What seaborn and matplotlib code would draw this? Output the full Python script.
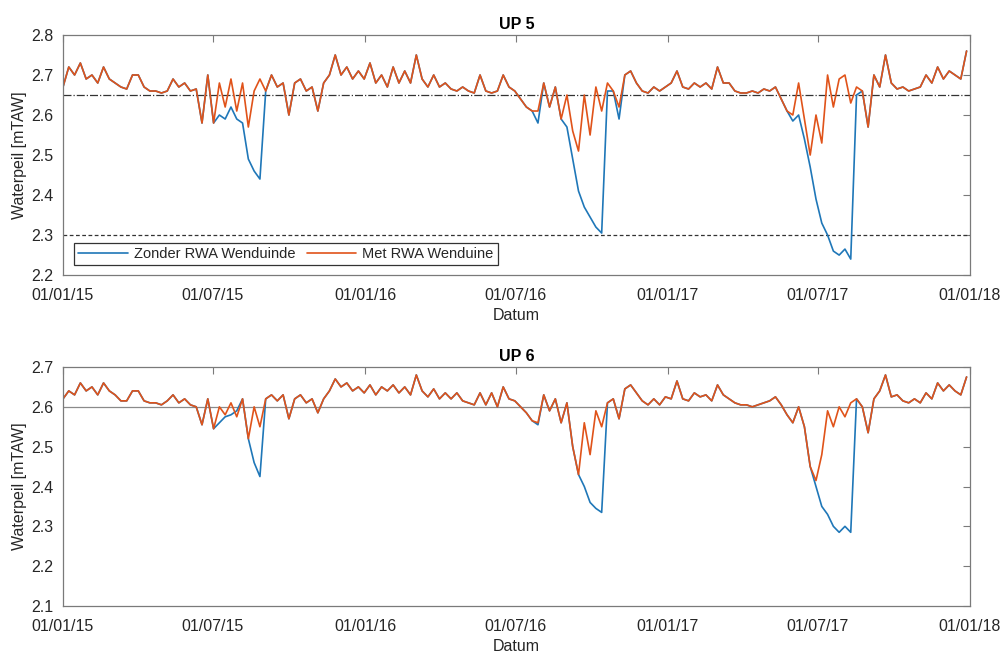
import numpy as np
import pandas as pd
import matplotlib
matplotlib.use("Agg")
import matplotlib.pyplot as plt
import matplotlib.dates as mdates
import seaborn as sns

# Weekly water levels [mTAW], starting 01/01/2015
start_date = "2015-01-01"

up5_met = [
    2.67, 2.72, 2.70, 2.73, 2.69, 2.70, 2.68, 2.72, 2.69, 2.68,
    2.67, 2.665, 2.70, 2.70, 2.67, 2.66, 2.66, 2.655, 2.66, 2.69,
    2.67, 2.68, 2.66, 2.665, 2.58, 2.70, 2.58, 2.68, 2.62, 2.69,
    2.61, 2.68, 2.57, 2.66, 2.69, 2.66, 2.70, 2.67, 2.68, 2.60,
    2.68, 2.69, 2.66, 2.67, 2.61, 2.68, 2.70, 2.75, 2.70, 2.72,
    2.69, 2.71, 2.69, 2.73, 2.68, 2.70, 2.67, 2.72, 2.68, 2.71,
    2.68, 2.75, 2.69, 2.67, 2.70, 2.67, 2.68, 2.665, 2.66, 2.67,
    2.66, 2.655, 2.70, 2.66, 2.655, 2.66, 2.70, 2.67, 2.66, 2.64,
    2.62, 2.61, 2.61, 2.68, 2.62, 2.67, 2.59, 2.65, 2.56, 2.51,
    2.65, 2.55, 2.67, 2.61, 2.68, 2.66, 2.62, 2.70, 2.71, 2.68,
    2.66, 2.655, 2.67, 2.66, 2.67, 2.68, 2.71, 2.67, 2.665, 2.68,
    2.67, 2.68, 2.665, 2.72, 2.68, 2.68, 2.66, 2.655, 2.655, 2.66,
    2.655, 2.665, 2.66, 2.67, 2.64, 2.61, 2.60, 2.68, 2.59, 2.50,
    2.60, 2.53, 2.70, 2.62, 2.69, 2.70, 2.63, 2.67, 2.66, 2.57,
    2.70, 2.67, 2.75, 2.68, 2.665, 2.67, 2.66, 2.665, 2.67, 2.70,
    2.68, 2.72, 2.69, 2.71, 2.70, 2.69, 2.76,
]

up5_zonder = [
    2.67, 2.72, 2.70, 2.73, 2.69, 2.70, 2.68, 2.72, 2.69, 2.68,
    2.67, 2.665, 2.70, 2.70, 2.67, 2.66, 2.66, 2.655, 2.66, 2.69,
    2.67, 2.68, 2.66, 2.665, 2.58, 2.70, 2.58, 2.60, 2.59, 2.62,
    2.59, 2.58, 2.49, 2.46, 2.44, 2.66, 2.70, 2.67, 2.68, 2.60,
    2.68, 2.69, 2.66, 2.67, 2.61, 2.68, 2.70, 2.75, 2.70, 2.72,
    2.69, 2.71, 2.69, 2.73, 2.68, 2.70, 2.67, 2.72, 2.68, 2.71,
    2.68, 2.75, 2.69, 2.67, 2.70, 2.67, 2.68, 2.665, 2.66, 2.67,
    2.66, 2.655, 2.70, 2.66, 2.655, 2.66, 2.70, 2.67, 2.66, 2.64,
    2.62, 2.61, 2.58, 2.68, 2.62, 2.67, 2.59, 2.57, 2.49, 2.41,
    2.37, 2.345, 2.32, 2.305, 2.66, 2.66, 2.59, 2.70, 2.71, 2.68,
    2.66, 2.655, 2.67, 2.66, 2.67, 2.68, 2.71, 2.67, 2.665, 2.68,
    2.67, 2.68, 2.665, 2.72, 2.68, 2.68, 2.66, 2.655, 2.655, 2.66,
    2.655, 2.665, 2.66, 2.67, 2.64, 2.61, 2.585, 2.60, 2.54, 2.47,
    2.39, 2.33, 2.30, 2.26, 2.25, 2.265, 2.24, 2.65, 2.66, 2.57,
    2.70, 2.67, 2.75, 2.68, 2.665, 2.67, 2.66, 2.665, 2.67, 2.70,
    2.68, 2.72, 2.69, 2.71, 2.70, 2.69, 2.76,
]

up6_met = [
    2.62, 2.64, 2.63, 2.66, 2.64, 2.65, 2.63, 2.66, 2.64, 2.63,
    2.615, 2.615, 2.64, 2.64, 2.615, 2.61, 2.61, 2.605, 2.615, 2.63,
    2.61, 2.62, 2.605, 2.60, 2.555, 2.62, 2.545, 2.60, 2.58, 2.61,
    2.575, 2.62, 2.52, 2.60, 2.55, 2.62, 2.63, 2.615, 2.63, 2.57,
    2.62, 2.63, 2.61, 2.62, 2.585, 2.62, 2.64, 2.67, 2.65, 2.66,
    2.64, 2.65, 2.635, 2.655, 2.63, 2.65, 2.64, 2.655, 2.635, 2.65,
    2.63, 2.68, 2.64, 2.625, 2.645, 2.62, 2.635, 2.62, 2.635, 2.615,
    2.61, 2.605, 2.635, 2.605, 2.635, 2.60, 2.65, 2.62, 2.615, 2.60,
    2.585, 2.565, 2.56, 2.63, 2.59, 2.62, 2.56, 2.61, 2.50, 2.43,
    2.56, 2.48, 2.59, 2.55, 2.61, 2.62, 2.57, 2.645, 2.655, 2.635,
    2.615, 2.605, 2.62, 2.605, 2.625, 2.62, 2.665, 2.62, 2.615, 2.635,
    2.625, 2.63, 2.615, 2.655, 2.63, 2.62, 2.61, 2.605, 2.605, 2.60,
    2.605, 2.61, 2.615, 2.625, 2.605, 2.58, 2.56, 2.60, 2.55, 2.45,
    2.415, 2.48, 2.59, 2.55, 2.60, 2.575, 2.61, 2.62, 2.60, 2.535,
    2.62, 2.64, 2.68, 2.625, 2.63, 2.615, 2.61, 2.62, 2.61, 2.635,
    2.62, 2.66, 2.64, 2.655, 2.64, 2.63, 2.675,
]

up6_zonder = [
    2.62, 2.64, 2.63, 2.66, 2.64, 2.65, 2.63, 2.66, 2.64, 2.63,
    2.615, 2.615, 2.64, 2.64, 2.615, 2.61, 2.61, 2.605, 2.615, 2.63,
    2.61, 2.62, 2.605, 2.60, 2.555, 2.62, 2.545, 2.56, 2.575, 2.58,
    2.59, 2.62, 2.52, 2.46, 2.425, 2.62, 2.63, 2.615, 2.63, 2.57,
    2.62, 2.63, 2.61, 2.62, 2.585, 2.62, 2.64, 2.67, 2.65, 2.66,
    2.64, 2.65, 2.635, 2.655, 2.63, 2.65, 2.64, 2.655, 2.635, 2.65,
    2.63, 2.68, 2.64, 2.625, 2.645, 2.62, 2.635, 2.62, 2.635, 2.615,
    2.61, 2.605, 2.635, 2.605, 2.635, 2.60, 2.65, 2.62, 2.615, 2.60,
    2.585, 2.565, 2.555, 2.63, 2.59, 2.62, 2.56, 2.61, 2.50, 2.43,
    2.40, 2.36, 2.345, 2.335, 2.61, 2.62, 2.57, 2.645, 2.655, 2.635,
    2.615, 2.605, 2.62, 2.605, 2.625, 2.62, 2.665, 2.62, 2.615, 2.635,
    2.625, 2.63, 2.615, 2.655, 2.63, 2.62, 2.61, 2.605, 2.605, 2.60,
    2.605, 2.61, 2.615, 2.625, 2.605, 2.58, 2.56, 2.60, 2.55, 2.45,
    2.40, 2.35, 2.33, 2.30, 2.285, 2.30, 2.285, 2.62, 2.60, 2.535,
    2.62, 2.64, 2.68, 2.625, 2.63, 2.615, 2.61, 2.62, 2.61, 2.635,
    2.62, 2.66, 2.64, 2.655, 2.64, 2.63, 2.675,
]

series_labels = ["Zonder RWA Wenduinde", "Met RWA Wenduine"]
panel_titles = ["UP 5", "UP 6"]
x_tick_dates = ["2015-01-01", "2015-07-01", "2016-01-01", "2016-07-01",
                "2017-01-01", "2017-07-01", "2018-01-01"]

BLUE = "#1f77b8"
RED = "#e0531a"
INK = "#262626"
EDGE = "#7a7a7a"

sns.set_style("white")
plt.rcParams["font.family"] = ["Liberation Sans", "DejaVu Sans"]
plt.rcParams["axes.edgecolor"] = EDGE
plt.rcParams["axes.linewidth"] = 0.9
plt.rcParams["xtick.color"] = EDGE
plt.rcParams["ytick.color"] = EDGE
plt.rcParams["xtick.labelcolor"] = INK
plt.rcParams["ytick.labelcolor"] = INK

dates = pd.date_range(start_date, periods=len(up5_met), freq="7D")


def to_long(zonder, met):
    frame = pd.DataFrame({"Datum": dates, series_labels[0]: zonder, series_labels[1]: met})
    return frame.melt(id_vars="Datum", var_name="Scenario", value_name="Waterpeil")


fig = plt.figure(figsize=(10.03, 6.55), dpi=100)
ax1 = fig.add_axes([0.0628, 0.580, 0.9042, 0.3666])
ax2 = fig.add_axes([0.0628, 0.0748, 0.9042, 0.3649])

panels = [
    (ax1, to_long(up5_zonder, up5_met), (2.2, 2.8), np.arange(2.2, 2.81, 0.1)),
    (ax2, to_long(up6_zonder, up6_met), (2.1, 2.7), np.arange(2.1, 2.71, 0.1)),
]

for (ax, frame, ylim, yticks), title in zip(panels, panel_titles):
    sns.lineplot(data=frame, x="Datum", y="Waterpeil", hue="Scenario",
                 hue_order=series_labels, palette=[BLUE, RED],
                 linewidth=1.2, ax=ax, legend=(ax is ax1))
    ax.set_xlim(pd.Timestamp(x_tick_dates[0]), pd.Timestamp(x_tick_dates[-1]))
    ax.set_ylim(*ylim)
    ax.set_yticks(yticks)
    ax.set_yticklabels([f"{v:.1f}" for v in yticks])
    ax.set_xticks(pd.to_datetime(x_tick_dates))
    ax.xaxis.set_major_formatter(mdates.DateFormatter("%d/%m/%y"))
    ax.tick_params(direction="in", length=5, width=0.8, top=True, right=True,
                   labelsize=11.5)
    ax.tick_params(axis="x", pad=9)
    ax.tick_params(axis="y", pad=7)
    ax.set_xlabel("Datum", fontsize=11.5, color=INK, labelpad=4)
    ax.set_ylabel("Waterpeil [mTAW]", fontsize=11.5, color=INK, labelpad=3)
    ax.set_title(title, fontsize=11.5, fontweight="bold", color="black", pad=4)
    for side in ax.spines.values():
        side.set_visible(True)
        side.set_color(EDGE)

# threshold levels
ax1.axhline(2.65, color="#333333", linewidth=0.9, linestyle="-.", zorder=1)
ax1.axhline(2.30, color="#333333", linewidth=0.9, linestyle=(0, (3, 2)), zorder=1)
ax2.axhline(2.60, color="#8a8a8a", linewidth=0.9, linestyle="-", zorder=1)

leg = ax1.legend(loc="lower left", bbox_to_anchor=(0.012, 0.04), ncol=2,
                 fontsize=10.5, frameon=True, fancybox=False, framealpha=1,
                 edgecolor="#333333", handlelength=3.4, columnspacing=0.8,
                 handletextpad=0.4, borderpad=0.3, borderaxespad=0.0)
leg.get_frame().set_linewidth(0.9)
for line in leg.get_lines():
    line.set_linewidth(1.2)

fig.savefig("out.png", dpi=100, facecolor="white")
